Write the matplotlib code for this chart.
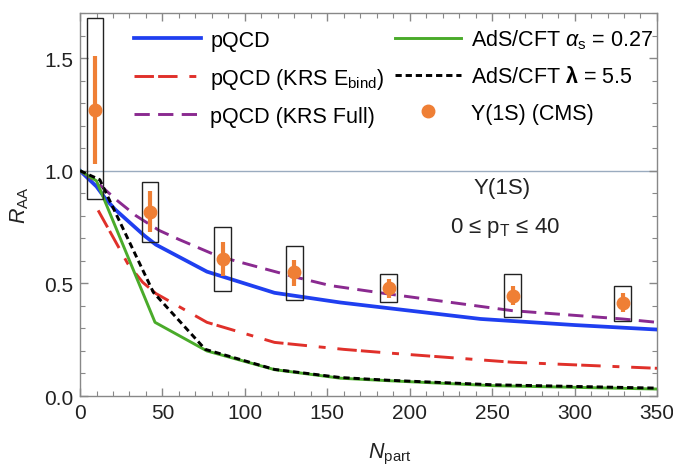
import matplotlib
matplotlib.use("Agg")
import matplotlib.pyplot as plt
from matplotlib.lines import Line2D
from matplotlib.patches import Rectangle
from matplotlib.ticker import MultipleLocator, FormatStrFormatter

plt.rcParams["font.family"] = ["Liberation Sans", "DejaVu Sans"]
plt.rcParams["mathtext.fontset"] = "custom"
plt.rcParams["mathtext.rm"] = "Liberation Sans"
plt.rcParams["mathtext.it"] = "Liberation Sans:italic"
plt.rcParams["mathtext.bf"] = "Liberation Sans:bold"
plt.rcParams["lines.scale_dashes"] = False

# pQCD
npart_pqcd = [0, 10, 15, 21, 39, 46, 77, 118, 158, 187, 243, 300, 350]
raa_pqcd = [1.0, 0.93, 0.88, 0.83, 0.712, 0.672, 0.552, 0.458, 0.415, 0.39, 0.342, 0.315, 0.295]

# pQCD (KRS E_bind)
npart_ebind = [11, 29, 38, 46, 77, 118, 160, 187, 262, 350]
raa_ebind = [0.824, 0.587, 0.505, 0.455, 0.327, 0.238, 0.207, 0.191, 0.15, 0.123]

# pQCD (KRS Full)
npart_full = [0, 10, 23, 34, 48, 60, 84, 130, 152, 187, 262, 329, 350]
raa_full = [1.0, 0.95, 0.865, 0.80, 0.735, 0.695, 0.62, 0.529, 0.49, 0.453, 0.379, 0.342, 0.327]

# AdS/CFT alpha_s = 0.27
npart_ads_a = [0, 10, 45.5, 77, 118, 158, 187, 250, 350]
raa_ads_a = [1.0, 0.955, 0.327, 0.2, 0.117, 0.079, 0.068, 0.046, 0.031]

# AdS/CFT lambda = 5.5
npart_ads_l = [0, 12, 44.5, 76, 118, 158, 187, 250, 350]
raa_ads_l = [1.0, 0.96, 0.46, 0.207, 0.118, 0.082, 0.07, 0.05, 0.035]

# CMS Upsilon(1S) data
npart_cms = [9.0, 42.4, 86.5, 130.0, 187.2, 262.5, 329.2]
raa_cms = [1.27, 0.816, 0.606, 0.55, 0.481, 0.444, 0.413]
stat_lo = [1.03, 0.727, 0.533, 0.489, 0.435, 0.404, 0.375]
stat_hi = [1.51, 0.912, 0.684, 0.604, 0.52, 0.487, 0.458]
sys_lo = [0.875, 0.683, 0.464, 0.424, 0.416, 0.35, 0.335]
sys_hi = [1.68, 0.952, 0.752, 0.668, 0.542, 0.542, 0.49]

fig = plt.figure(figsize=(6.73, 4.77), dpi=100)
ax = fig.add_axes([0.1189, 0.1677, 0.8573, 0.8029])

orange = "#ef7f35"
txt = "#222222"
ax.axhline(1.0, color="#9aabbf", lw=1.0, zorder=1)

ax.plot(npart_pqcd, raa_pqcd, color="#1f3ff0", lw=2.7, label="pQCD", zorder=3)
ax.plot(npart_ebind, raa_ebind, color="#e0302a", lw=2.1,
        dashes=(14, 3, 14, 8.5, 5, 8.5), label=r"pQCD (KRS E$_{\mathrm{bind}}$)", zorder=3)
ax.plot(npart_full, raa_full, color="#8a2a90", lw=2.1, dashes=(11, 6),
        label="pQCD (KRS Full)", zorder=3)
ax.plot(npart_ads_a, raa_ads_a, color="#4aab2a", lw=2.1,
        label=r"AdS/CFT $\alpha_{\mathrm{s}}$ = 0.27", zorder=3)
ax.plot(npart_ads_l, raa_ads_l, color="black", lw=2.1, dashes=(4.5, 2.8),
        label=r"AdS/CFT $\mathbf{\lambda}$ = 5.5", zorder=4)

box_w = 10
for x, lo, hi in zip(npart_cms, sys_lo, sys_hi):
    ax.add_patch(Rectangle((x - box_w / 2, lo), box_w, hi - lo, fill=False,
                           edgecolor="#222222", lw=1.0, zorder=5))
yerr = [[v - l for v, l in zip(raa_cms, stat_lo)], [h - v for v, h in zip(raa_cms, stat_hi)]]
ax.errorbar(npart_cms, raa_cms, yerr=yerr, fmt="o", color=orange, ms=9,
            elinewidth=3.0, capsize=0, zorder=6)

ax.set_xlim(0, 350)
ax.set_ylim(0, 1.7)
ax.xaxis.set_major_locator(MultipleLocator(50))
ax.xaxis.set_minor_locator(MultipleLocator(10))
ax.yaxis.set_major_locator(MultipleLocator(0.5))
ax.yaxis.set_minor_locator(MultipleLocator(0.1))
ax.yaxis.set_major_formatter(FormatStrFormatter("%.1f"))
ax.tick_params(which="both", direction="in", top=True, right=True, color="#888888",
               labelsize=15, labelcolor=txt)
ax.tick_params(which="major", length=6, width=1, pad=5)
ax.tick_params(which="minor", length=3.5, width=0.8)
for s in ax.spines.values():
    s.set_color("#888888")
    s.set_linewidth(1.0)

ax.text(-0.104, 0.50, r"$R_{\mathrm{AA}}$", transform=ax.transAxes, rotation=90,
        fontsize=15.5, ha="center", va="center", color=txt)
ax.text(0.537, -0.151, r"$\mathbf{\mathit{N}}_{\mathrm{part}}$", transform=ax.transAxes,
        fontsize=15.5, ha="center", va="center", color=txt)

ax.text(256, 0.925, "Υ(1S)", fontsize=16, ha="center", va="center", color=txt)
ax.text(258, 0.752, r"0 ≤ p$_{\mathrm{T}}$ ≤ 40", fontsize=16, ha="center", va="center",
        color=txt)

handles, labels = ax.get_legend_handles_labels()
cms_handle = Line2D([], [], ls="none", marker="o", color=orange, ms=9)
handles.append(cms_handle)
labels.append("Υ(1S) (CMS)")
ax.legend(handles, labels, ncol=2, frameon=False, loc="upper left",
          bbox_to_anchor=(0.06, 1.012), fontsize=15.5, handlelength=3.1,
          handletextpad=0.45, columnspacing=0.45, labelspacing=0.7)

fig.savefig("out.png", dpi=100)
